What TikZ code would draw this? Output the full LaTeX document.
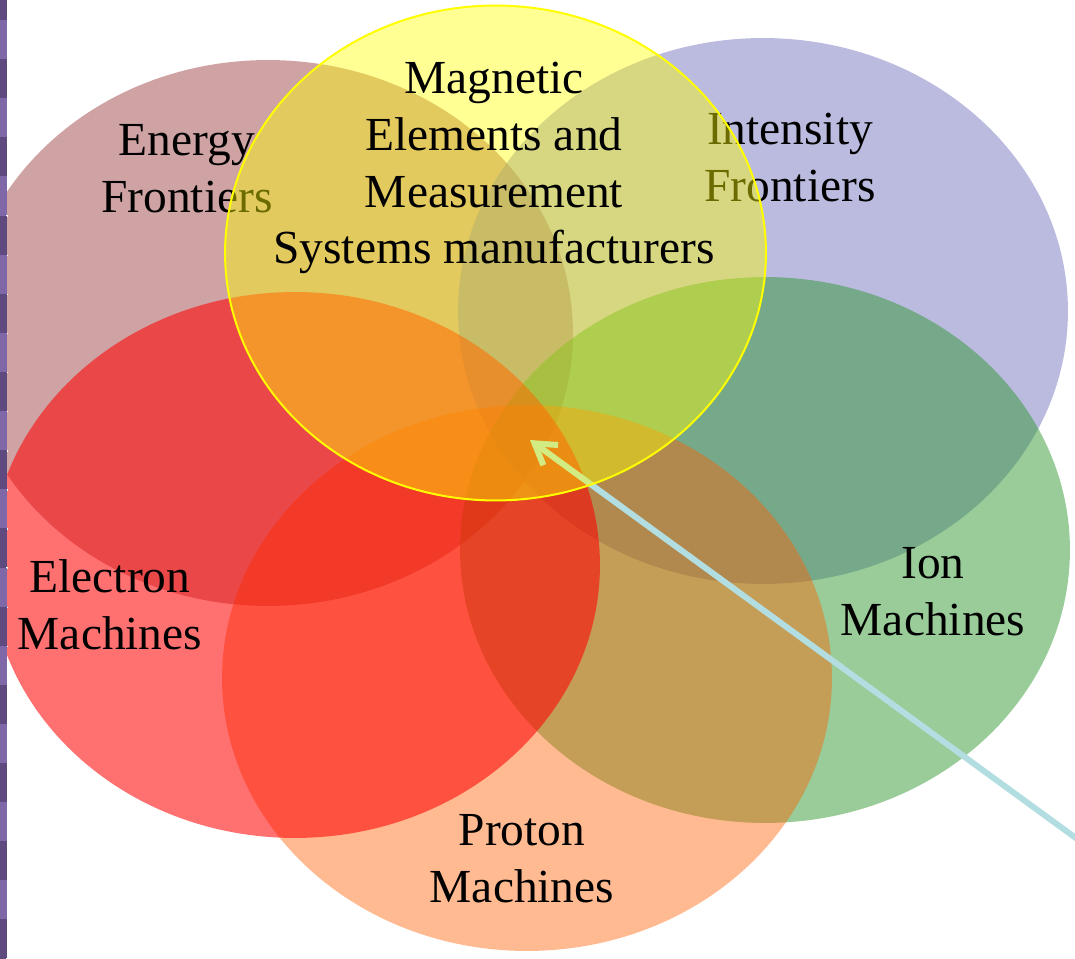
\documentclass[tikz,border=0pt]{standalone}
\usepackage{fontspec}
\setmainfont{Liberation Serif}
\usepackage{xcolor}
\usepackage{tikz}
\usetikzlibrary{shapes.geometric, arrows.meta}

\definecolor{energyred}{RGB}{160,72,72}
\definecolor{intensityblue}{RGB}{119,119,193}
\definecolor{iongreen}{RGB}{51,153,51}
\definecolor{protonorange}{RGB}{255,95,0}
\definecolor{electronred}{RGB}{255,0,0}
\definecolor{magnetyellow}{RGB}{255,255,0}
\definecolor{pointerblue}{RGB}{178,222,226}
\definecolor{stripdark}{RGB}{94,74,126}
\definecolor{striplight}{RGB}{128,104,168}

\begin{document}
\begin{tikzpicture}[
        x=0.02cm, y=-0.02cm,
        venn/.style={ellipse, inner sep=0pt, minimum width=12.2cm, minimum height=10.92cm},
        settext/.style={align=center, inner sep=0pt, font=\fontsize{27}{32.4}\selectfont},
        pointer/.style={-{Straight Barb[length=0.4cm, width=0.5cm]}, line width=0.12cm, draw=pointerblue}
    ]
        \useasboundingbox (0,0) rectangle (1075,959);
        \clip (0,0) rectangle (1075,959);

        % Frontiers (back)
        \node[venn, fill=energyred, fill opacity=0.5] (energy) at (268,333) {};
        \node[settext] (energytext) at (187,169) {Energy\\Frontiers};
        \node[venn, fill=intensityblue, fill opacity=0.5] (intensity) at (763,311) {};
        \node[settext] (intensitytext) at (790,157.5) {Intensity\\Frontiers};

        % Machines
        \node[venn, fill=iongreen, fill opacity=0.5] (ion) at (765,550) {};
        \node[settext] (iontext) at (933,592) {Ion\\Machines};
        \node[venn, fill=protonorange, fill opacity=0.43] (proton) at (527,678) {};
        \node[settext] (protontext) at (522,859) {Proton\\Machines};
        \node[venn, fill=electronred, fill opacity=0.56] (electron) at (295,565) {};
        \node[settext] (electrontext) at (110,604.5) {Electron\\Machines};

        % Pointer into the middle
        \coordinate (pointertip) at (530,440);
        \coordinate (pointerfoot) at (1095,852);
        \draw[pointer] (pointerfoot) -- (pointertip);

        % Magnetic elements (front)
        \node[venn, fill=magnetyellow, fill opacity=0.42, draw=magnetyellow, line width=0.04cm,
              minimum width=10.82cm, minimum height=9.9cm] (magnetic) at (495.5,253) {};
        \node[settext] (magnetictext) at (494,168) {Magnetic\\Elements and\\Measurement\\Systems manufacturers};

        % Left strip
        \foreach \k in {0,...,24}{
            \ifodd\k \def\stripcol{striplight}\else \def\stripcol{stripdark}\fi
            \fill[\stripcol] (0,{-19+39.1*\k}) rectangle (7,{20.2+39.1*\k});
            \fill[white] (6,{20+39.1*\k}) rectangle (7.5,{21.5+39.1*\k});
        }
    \end{tikzpicture}
\end{document}
